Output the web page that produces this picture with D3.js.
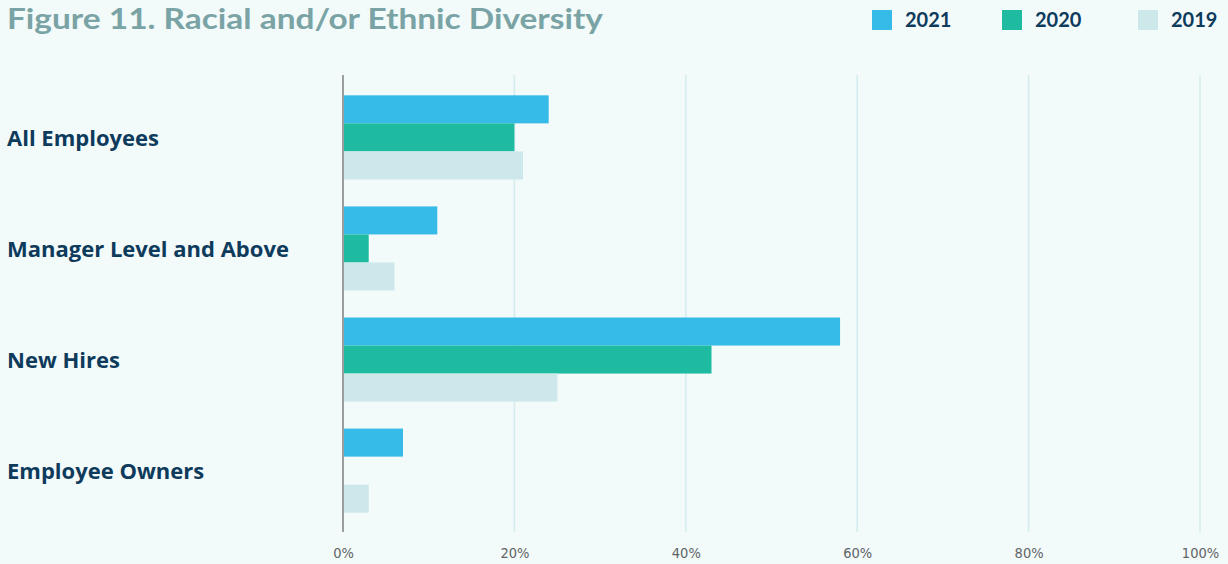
<!DOCTYPE html>
<html><head><meta charset="utf-8">
<script src="https://cdn.jsdelivr.net/npm/d3@7/dist/d3.min.js"></script>
<style>
html,body{margin:0;padding:0;background:#f2fafa;}
svg{display:block;}
</style></head>
<body>
<svg id="chart" width="1228" height="564"></svg>
<script>
const categories = ["All Employees", "Manager Level and Above", "New Hires", "Employee Owners"];
const seriesNames = ["2021", "2020", "2019"];
const values2021 = [24, 11, 58, 7];
const values2020 = [20, 3, 43, 0];
const values2019 = [21, 6, 25, 3];
const tickValues = [0, 20, 40, 60, 80, 100];
const colors = ["#36bae8", "#1fbba1", "#cce8ea"];
const title = "Figure 11. Racial and/or Ethnic Diversity";

const seriesValues = [values2021, values2020, values2019];
const svg = d3.select("#chart");
const W = 1228, H = 564;
svg.append("rect").attr("width", W).attr("height", H).attr("fill", "#f2fafa");

const x = d3.scaleLinear().domain([0, 100]).range([343, 1200]);
const y = d3.scaleBand().domain(categories).range([82, 526]).paddingInner(0.243).paddingOuter(0.12);
const ySub = d3.scaleBand().domain(seriesNames).range([0, y.bandwidth()]);

// gridlines
svg.append("g").selectAll("line").data(tickValues.filter(d => d > 0)).join("line")
  .attr("x1", d => x(d)).attr("x2", d => x(d))
  .attr("y1", 75).attr("y2", 532)
  .attr("stroke", "#d3ecee").attr("stroke-width", 1.5);

// bars
const data = [];
categories.forEach((c, i) => seriesNames.forEach((s, j) => data.push({c, s, v: seriesValues[j][i], color: colors[j]})));
svg.append("g").selectAll("rect").data(data).join("rect")
  .attr("x", x(0))
  .attr("y", d => y(d.c) + ySub(d.s))
  .attr("width", d => x(d.v) - x(0))
  .attr("height", ySub.bandwidth())
  .attr("fill", d => d.color);

// axis line at 0
svg.append("line").attr("x1", x(0)).attr("x2", x(0)).attr("y1", 75).attr("y2", 532)
  .attr("stroke", "#9a9e9f").attr("stroke-width", 2);

// bottom tick labels via axis
const xAxis = d3.axisBottom(x).tickValues(tickValues).tickFormat(d => d + "%").tickSize(0).tickPadding(0);
const gx = svg.append("g").attr("transform", "translate(0,548)").call(xAxis);
gx.select(".domain").remove();
gx.selectAll("text").attr("fill", "#5f6466").style("font-family", "'DejaVu Sans Condensed', 'DejaVu Sans', sans-serif")
  .style("font-size", "14.5px").style("font-weight", "400").style("font-stretch", "condensed").attr("dy", "0.71em");

// category labels
svg.append("g").selectAll("text").data(categories).join("text")
  .attr("x", 7).attr("y", d => y(d) + y.bandwidth() / 2)
  .attr("dy", "0.4em")
  .attr("fill", "#0e3b5c")
  .style("font-family", "'Open Sans', sans-serif").style("font-weight", "700").style("font-size", "22px")
  .text(d => d);

// title
svg.append("text").attr("x", 7).attr("y", 29)
  .attr("fill", "#7aa3a5")
  .style("font-family", "Lato, sans-serif").style("font-weight", "700").style("font-size", "29px")
  .attr("textLength", 596).attr("lengthAdjust", "spacingAndGlyphs")
  .text(title);

// legend
const legendX = [872, 1002, 1138];
const lg = svg.append("g").selectAll("g").data(seriesNames).join("g")
  .attr("transform", (d, i) => `translate(${legendX[i]},10)`);
lg.append("rect").attr("width", 20).attr("height", 20).attr("fill", (d, i) => colors[i]);
lg.append("text").attr("x", 33).attr("y", 10).attr("dy", "0.36em")
  .attr("fill", "#0e3b5c")
  .style("font-family", "Lato, sans-serif").style("font-weight", "700").style("font-size", "20px")
  .text(d => d);
</script>
</body></html>
